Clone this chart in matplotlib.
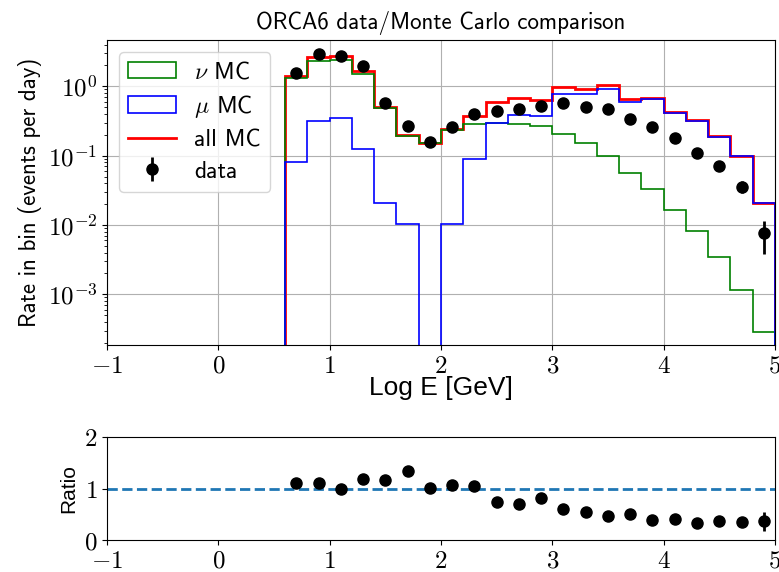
import numpy as np
import matplotlib
matplotlib.use("Agg")
import matplotlib.pyplot as plt
from matplotlib.ticker import FuncFormatter

# binning in log10(E/GeV)
bin_edges = np.round(np.arange(0.6, 5.0001, 0.2), 1)
bin_centers = 0.5 * (bin_edges[:-1] + bin_edges[1:])

# rates in events per day
nu_mc = [1.32, 2.33, 2.42, 1.52, 0.48, 0.19, 0.154, 0.233, 0.29, 0.30, 0.285,
         0.265, 0.203, 0.150, 0.099, 0.057, 0.033, 0.0164, 0.0082, 0.0035,
         0.00115, 0.00029]
mu_mc = [0.080, 0.319, 0.345, 0.123, 0.0205, 0.0105, 0.0, 0.0105, 0.0885, 0.30,
         0.385, 0.37, 0.77, 0.78, 0.93, 0.60, 0.65, 0.415, 0.315, 0.187,
         0.098, 0.0207]
data = [1.54, 2.92, 2.74, 1.96, 0.58, 0.27, 0.157, 0.259, 0.394, 0.44, 0.47,
        0.52, 0.58, 0.51, 0.47, 0.333, 0.261, 0.18, 0.108, 0.0716, 0.0356,
        0.00757]
data_err = [0.03, 0.04, 0.04, 0.035, 0.018, 0.012, 0.009, 0.012, 0.014, 0.015,
            0.016, 0.017, 0.018, 0.016, 0.016, 0.013, 0.012, 0.01, 0.008,
            0.009, 0.007, 0.0037]

all_mc = np.array(nu_mc) + np.array(mu_mc)
ratio = np.array(data) / all_mc
ratio_err = np.array(data_err) / all_mc

plt.rcParams['mathtext.fontset'] = 'cm'
plt.rcParams['font.family'] = ['cmss10', 'DejaVu Sans']

# tick labels in computer modern, like the usetex original
lin_fmt = FuncFormatter(lambda v, p: r'$\mathrm{%d}$' % round(v))
log_fmt = FuncFormatter(lambda v, p: r'$\mathrm{10^{%d}}$' % round(np.log10(v)))

fig = plt.figure(figsize=(7.79, 5.72), dpi=100)
ax = fig.add_axes([0.1374, 0.3969, 0.8574, 0.5332])
axr = fig.add_axes([0.1374, 0.0559, 0.8574, 0.1801])

ax.set_yscale('log')
ax.hist(bin_centers, bins=bin_edges, weights=nu_mc, histtype='step',
        color='green', linewidth=1.2, label=r'$\nu$ MC')
ax.hist(bin_centers, bins=bin_edges, weights=mu_mc, histtype='step',
        color='blue', linewidth=1.2, label=r'$\mu$ MC')
ax.stairs(all_mc, bin_edges, color='red', linewidth=2, label='all MC')
ax.errorbar(bin_centers, data, yerr=data_err, fmt='o', color='black', ms=8,
            elinewidth=2, label='data', zorder=5)

ax.set_xlim(-1, 5)
ax.set_ylim(1.86e-4, 4.66)
ax.xaxis.set_major_formatter(lin_fmt)
ax.yaxis.set_major_formatter(log_fmt)
ax.grid(True, color='#b0b0b0')
ax.set_axisbelow(True)
ax.tick_params(labelsize=18)
ax.set_title('ORCA6 data/Monte Carlo comparison', fontsize=16.5, pad=8)
ax.set_ylabel('Rate in bin (events per day)', fontsize=16.5)
ax.set_xlabel('Log E [GeV]', fontsize=19, family='Liberation Sans', labelpad=-1)
ax.legend(loc='upper left', fontsize=17, labelspacing=0.4)

axr.axhline(1, linestyle='--', color='C0', linewidth=2)
axr.errorbar(bin_centers, ratio, yerr=ratio_err, fmt='o', color='black', ms=8,
             elinewidth=2)
axr.set_xlim(-1, 5)
axr.set_ylim(0, 2)
axr.set_yticks([0, 1, 2])
axr.xaxis.set_major_formatter(lin_fmt)
axr.yaxis.set_major_formatter(lin_fmt)
axr.tick_params(labelsize=18)
axr.set_ylabel('Ratio', fontsize=15, family='Liberation Sans')

fig.savefig('out.png', dpi=100)
